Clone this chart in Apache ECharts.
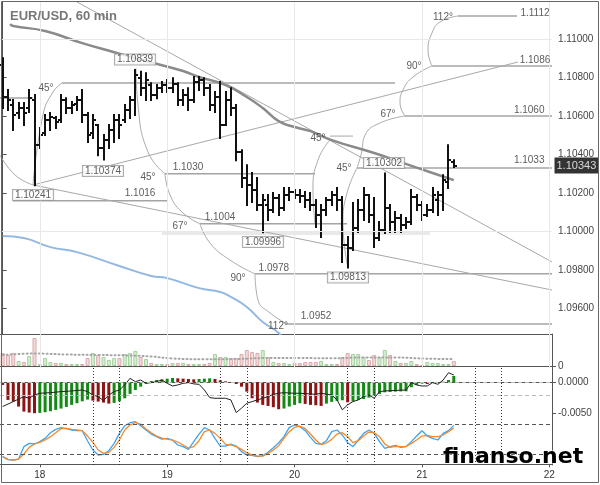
<!DOCTYPE html>
<html>
<head>
<meta charset="utf-8">
<script src="https://cdn.jsdelivr.net/npm/echarts@6/dist/echarts.min.js"></script>
<style>
html,body{margin:0;padding:0;background:#fff;}
#chart{width:600px;height:485px;}
</style>
</head>
<body>
<div id="chart"></div>
<script>
const FONT = '"Liberation Sans", Arial, sans-serif';

// hourly bars, first bar = 17th 17:00
const ohlc = [
  [1.10865,1.10901,1.10642,1.10699],[1.10699,1.10735,1.10631,1.10683],[1.10657,1.10683,1.10527,1.10605],
  [1.10616,1.10668,1.10590,1.10642],[1.10642,1.10668,1.10553,1.10616],[1.10642,1.10735,1.10621,1.10693],
  [1.10683,1.10709,1.10241,1.10449],[1.10449,1.10538,1.10434,1.10501],[1.10512,1.10605,1.10501,1.10579],
  [1.10579,1.10616,1.10527,1.10595],[1.10590,1.10595,1.10538,1.10569],[1.10579,1.10709,1.10569,1.10683],
  [1.10683,1.10693,1.10616,1.10642],[1.10642,1.10673,1.10616,1.10657],[1.10662,1.10699,1.10631,1.10683],
  [1.10683,1.10735,1.10569,1.10605],[1.10605,1.10616,1.10465,1.10501],[1.10512,1.10605,1.10486,1.10579],
  [1.10553,1.10553,1.10397,1.10434],[1.10434,1.10501,1.10374,1.10475],[1.10475,1.10553,1.10434,1.10527],
  [1.10527,1.10605,1.10465,1.10579],[1.10579,1.10605,1.10486,1.10553],[1.10579,1.10657,1.10569,1.10631],
  [1.10631,1.10699,1.10590,1.10683],[1.10683,1.10839,1.10605,1.10813],[1.10797,1.10830,1.10709,1.10745],
  [1.10745,1.10823,1.10683,1.10787],[1.10761,1.10771,1.10683,1.10709],[1.10709,1.10761,1.10693,1.10745],
  [1.10745,1.10777,1.10725,1.10761],[1.10761,1.10787,1.10725,1.10745],[1.10745,1.10797,1.10725,1.10766],
  [1.10766,1.10771,1.10657,1.10683],[1.10683,1.10735,1.10657,1.10709],[1.10709,1.10745,1.10631,1.10683],
  [1.10683,1.10803,1.10673,1.10777],[1.10777,1.10803,1.10735,1.10787],[1.10787,1.10797,1.10709,1.10745],
  [1.10745,1.10761,1.10631,1.10657],[1.10657,1.10725,1.10621,1.10699],[1.10699,1.10777,1.10486,1.10553],
  [1.10553,1.10725,1.10553,1.10683],[1.10683,1.10745,1.10605,1.10642],[1.10642,1.10657,1.10371,1.10413],
  [1.10413,1.10423,1.10231,1.10278],[1.10278,1.10345,1.10138,1.10241],[1.10241,1.10304,1.10153,1.10216],
  [1.10216,1.10278,1.10112,1.10138],[1.10138,1.10190,1.09996,1.10164],[1.10138,1.10190,1.10060,1.10112],
  [1.10112,1.10200,1.10101,1.10174],[1.10174,1.10190,1.10086,1.10122],[1.10122,1.10226,1.10112,1.10190],
  [1.10190,1.10226,1.10164,1.10205],[1.10205,1.10216,1.10174,1.10190],[1.10190,1.10216,1.10153,1.10184],
  [1.10184,1.10205,1.10127,1.10164],[1.10164,1.10200,1.10112,1.10138],[1.10138,1.10164,1.10023,1.10086],
  [1.10086,1.10138,1.09971,1.10112],[1.10112,1.10174,1.10086,1.10164],[1.10164,1.10205,1.10138,1.10190],
  [1.10190,1.10226,1.10112,1.10164],[1.10164,1.10179,1.09842,1.09930],[1.09930,1.09971,1.09813,1.09914],
  [1.09914,1.10148,1.09904,1.10018],[1.10018,1.10164,1.09997,1.10112],[1.10112,1.10226,1.10060,1.10190],
  [1.10190,1.10190,1.10049,1.10086],[1.10086,1.10174,1.09919,1.09966],[1.09966,1.10049,1.09956,1.10008],
  [1.10008,1.10302,1.09992,1.10122],[1.10122,1.10138,1.09997,1.10049],[1.10049,1.10101,1.09997,1.10070],
  [1.10070,1.10086,1.09997,1.10034],[1.10034,1.10070,1.10018,1.10049],[1.10049,1.10216,1.10039,1.10179],
  [1.10179,1.10190,1.10112,1.10138],[1.10138,1.10153,1.10060,1.10086],[1.10086,1.10138,1.10081,1.10112],
  [1.10112,1.10226,1.10101,1.10190],[1.10164,1.10205,1.10086,1.10190],[1.10190,1.10293,1.10112,1.10267],
  [1.10257,1.10449,1.10226,1.10371],[1.10361,1.10371,1.10335,1.10343]
];
const lastPrice = 1.10343;

// moving averages, [bar, price]
const grayMA = [[1.4,1.11078],[2,1.11068],[8,1.11042],[15,1.10979],[21,1.10932],[27,1.10886],[34,1.10834],
  [37,1.10803],[42,1.10761],[46,1.10699],[49,1.10642],[52,1.10574],[55,1.10543],[58,1.10522],[62,1.10475],
  [70,1.10408],[75,1.10361],[81,1.10304],[85,1.10267]];
const blueMA = [[0,1.09977],[4,1.09966],[9,1.09919],[14,1.09893],[22,1.09821],[28,1.09769],[31,1.09758],
  [37,1.09706],[41,1.09686],[43,1.09660],[46,1.09608],[49,1.09530],[52,1.09473],[54,1.0940]];

const volume = [13,11,13,5,4,10,28,2,8,4, 3,3,2,2,2,2,8,13,11,9, 6,8,8,12,13,15,9,7,3,2,
  2,2,3,3,3,2,2,2,2,3, 12,9,9,8,8,12,16,14,13,16, 9,4,3,3,2,3,3,4,4,4,
  5,2,2,2,9,13,12,12,9,6, 11,9,16,11,5,3,3,5,2,1, 4,3,3,2,2,5];
const volumeAvg = [[0,11],[6,12.5],[12,11.5],[18,11],[24,10.5],[28,9.5],[32,7.5],[38,6.8],[44,7],
  [50,8],[56,8],[62,7.7],[68,8.5],[74,8.5],[80,7.3],[85,7]];

// MACD in pips (x 0.0001)
const macdHist = [-4.3,-28.8,-31.5,-39.6,-47.8,-49.4,-50.5,-50.0,-48.9,-47.2,
  -45.1,-42.9,-40.2,-36.9,-34.2,-31.0,-28.2,-29.9,-31.5,-33.1,
  -34.8,-33.7,-31.0,-26.1,-19.0,-12.5,-7.1,-2.2,2.2,3.8,
  4.9,6.0,7.1,6.5,6.0,5.4,4.9,5.4,6.0,6.5,
  5.4,3.3,1.6,-0.3,-2.7,-7.1,-15.2,-26.1,-33.1,-36.9,
  -38.6,-40.7,-44.0,-42.9,-39.6,-36.9,-34.2,-35.3,-36.9,-37.5,
  -38.6,-34.8,-32.0,-30.4,-29.3,-32.6,-31.0,-28.8,-27.2,-25.0,
  -22.3,-19.0,-16.3,-15.7,-15.2,-14.9,-14.7,-8.1,-4.3,-2.2,
  -2.7,-0.5,0.5,1.1,3.8,10.3];
const macdSignal = [[0,-39.6],[2,-31.5],[4,-23.4],[5,-26.1],[6,-20.7],[7,-17.9],[9,-16.9],[11,-15.2],
  [13,-14.1],[15,-12.5],[16,-15.2],[17,-20.7],[18,-23.4],[19,-29.9],[20,-20.7],[21,-15.2],[22,-12.5],
  [23,-4.3],[24,6.5],[25,1.1],[26,3.8],[27,-1.6],[28,-0.5],[29,1.1],[30,3.8],[31,-1.6],[32,-6.0],
  [33,-4.3],[34,-1.6],[35,-0.5],[36,-2.5],[37,-3.3],[38,-12.5],[39,-25.0],[40,-26.1],[42,-26.1],
  [43,-28.8],[44,-49.4],[45,-42.3],[46,-34.2],[47,-31.5],[48,-28.8],[49,-26.1],[50,-23.4],[51,-19.6],
  [52,-17.9],[53,-16.9],[55,-17.9],[56,-17.9],[58,-19.0],[59,-19.6],[60,-17.9],[62,-20.7],[63,-28.8],
  [64,-45.0],[65,-36.9],[66,-31.5],[67,-28.8],[68,-23.4],[69,-20.7],[70,-26.1],[71,-15.2],[72,-14.1],
  [76,-12.5],[77,-0.5],[78,-4.3],[79,-6.0],[80,-6.0],[81,-0.5],[82,-3.3],[83,3.8],[84,15.7],[85,11.9]];

const stochK = [15.3,9.2,8.6,10.5,35.3,41.9,40.6,45.3,51.9,63.2,
  69.9,73.2,71.2,68.6,67.2,67.2,46.6,28.6,18.6,19.9,
  27.2,41.9,61.9,77.2,83.2,85.2,77.2,68.6,60.5,55.3,
  50.5,51.9,48.6,38.6,35.3,29.9,45.3,60.5,73.2,68.6,
  51.9,36.5,36.5,40.6,36.5,25.3,18.6,17.9,15.3,17.2,
  23.9,33.2,43.2,55.3,73.9,78.6,75.3,67.2,53.9,41.9,
  39.9,47.2,65.3,68.6,58.6,43.2,35.3,48.6,61.9,68.6,
  61.9,45.3,31.9,35.3,37.9,33.9,35.3,45.3,56.5,67.2,
  56.5,51.9,48.6,61.9,67.2,77.9];
const stochD = [15.3,9.9,8.6,10.5,20.6,33.9,40.6,43.9,48.6,55.3,
  63.2,71.2,71.9,69.9,68.6,67.2,56.5,43.9,28.6,21.9,
  23.9,33.9,48.6,68.6,78.6,83.9,79.9,70.5,63.2,56.5,
  52.5,50.5,48.6,44.6,38.6,32.5,35.3,47.2,65.3,68.6,
  61.9,51.9,39.9,38.6,35.3,29.9,23.2,18.6,16.5,16.5,
  21.9,28.6,37.2,51.9,65.3,73.9,76.5,71.2,60.5,48.6,
  39.2,42.6,49.9,60.5,63.2,55.3,43.2,47.2,56.5,64.5,
  63.2,55.3,40.6,33.9,35.9,35.3,35.9,41.9,48.6,56.5,
  57.9,55.3,55.3,58.6,65.3,72.6];

const priceTicks = [1.096,1.098,1.100,1.102,1.104,1.106,1.108,1.110];
const dayBars = [7,31,55,79,103];
const sessionBars = [17,22,41,46,65,70,89,94];

// drawings on the price panel: [fromBar, toBar, price]
const levelLines = [
  [11.18,73.92,1.10772],[-0.5,5.72,1.10694],[85.79,96.9,1.1112],[80.89,103.5,1.1086],
  [75.8,103.5,1.1060],[66.76,103.5,1.1033],[30.59,58.85,1.1030],[1.95,30.96,1.1016],
  [37.18,64.88,1.1004],[47.54,103.5,1.0978],[53.57,103.5,1.0952]
];
const trendLines = [
  [[14.0,1.11193],[103.5,1.09842]],
  [[5.72,1.10242],[103.5,1.09696]],
  [[5.72,1.10242],[97.1,1.10881]],
  [[61.67,1.10496],[66.0,1.10496]]
];
const arcs = [
  [[-0.5,1.10398],[2.33,1.10294],[5.72,1.10242]],
  [[5.72,1.10242],[7.6,1.10606],[9.49,1.10725],[11.18,1.10772]],
  [[25.12,1.10850],[25.5,1.10658],[27.38,1.10413],[30.59,1.1030]],
  [[30.59,1.1030],[31.53,1.10190],[33.79,1.10101],[37.18,1.1004]],
  [[37.18,1.1004],[39.07,1.09940],[42.83,1.09852],[47.54,1.0978]],
  [[47.54,1.0978],[48.11,1.09644],[50.37,1.09577],[53.57,1.0952]],
  [[65.06,1.09810],[64.12,1.10049],[64.88,1.10200],[66.76,1.1033]],
  [[66.76,1.1033],[67.6,1.10408],[68.3,1.10502],[71.1,1.10564],[75.8,1.1060]],
  [[75.8,1.1060],[74.87,1.10668],[75.43,1.10736],[77.31,1.10803],[80.89,1.1086]],
  [[80.89,1.1086],[80.14,1.10943],[80.89,1.11032],[82.4,1.11089],[85.79,1.1112]],
  [[61.67,1.10476],[59.41,1.10372],[58.47,1.10216],[58.85,1.1004]]
];
const angleLabels = [
  ['45°',8.17,1.10746],['45°',27.38,1.10283],['67°',33.41,1.10029],['90°',44.34,1.09758],
  ['112°',51.88,1.09509],['45°',59.41,1.10486],['45°',64.31,1.10330],['67°',72.6,1.10611],
  ['90°',77.5,1.10860],['112°',82.96,1.11115]
];
const levelLabels = [
  ['1.1112',100.3,1.11136],['1.1086',100.3,1.10891],['1.1060',99.2,1.10632],['1.1033',99.2,1.10372],
  ['1.1030',34.92,1.10335],['1.1016',25.88,1.10200],['1.1004',40.95,1.10075],['1.0978',51.1,1.09810],
  ['1.0952',59.04,1.09561]
];
const pivotLabels = [
  ['1.10839',24.94,1.10894],['1.10374',18.9,1.10315],['1.10241',5.72,1.10190],
  ['1.09996',49.05,1.09946],['1.09813',65.06,1.09761],['1.10302',71.85,1.10356]
];

// hour slots from 17th 17:00
const cats = [];
for (let k = 0; k < 104; k++) {
  const t = 17 + k;
  cats.push((17 + Math.floor(t / 24)) + ' ' + String(t % 24).padStart(2, '0') + ':00');
}
const isMidnight = (idx) => cats[idx] && cats[idx].endsWith(' 00:00');

const chart = echarts.init(document.getElementById('chart'), null, { renderer: 'canvas' });

const plain = (pts, color, width, smooth, z) => ({
  type: 'line', xAxisIndex: 0, yAxisIndex: 0, data: pts, symbol: 'none', silent: true,
  smooth: smooth ? 0.5 : false, lineStyle: { color: color, width: width }, z: z || 2, animation: false
});

const vLines = (list, color, type) => list.map((v) => ({ xAxis: v, lineStyle: { color: color, type: type, width: 1 } }));
const hLines = (list, color, type) => list.map((v) => ({ yAxis: v, lineStyle: { color: color, type: type, width: 1 } }));
const mark = (data) => ({ symbol: ['none', 'none'], silent: true, label: { show: false }, animation: false, data: data });

const series = [];

// grid lines on the price panel
series.push({
  type: 'line', xAxisIndex: 0, yAxisIndex: 0, data: [], z: 1,
  markLine: mark([
    ...hLines(priceTicks, '#e8e8e8', 'solid'),
    ...vLines(dayBars, '#e8e8e8', 'solid')
  ])
});

series.push(plain([[30, 1.09992], [80.5, 1.09992]], '#e9e9e9', 4, false, 1));
levelLines.forEach(([a, b, p]) => series.push(plain([[a, p], [b, p]], '#a4a4a4', 1.5)));
trendLines.forEach((pts) => series.push(plain(pts, '#a8a8a8', 1)));
arcs.forEach((pts) => series.push(plain(pts, '#ababab', 1, true)));

series.push(plain(grayMA, '#8a8a8a', 2.5, true, 3));
series.push(plain(blueMA, '#93b9e2', 2, true, 3));

series.push({
  type: 'custom', xAxisIndex: 0, yAxisIndex: 0, z: 4, clip: true, animation: false,
  data: ohlc.map((d, i) => [i].concat(d)),
  encode: { x: 0, y: [1, 2, 3, 4] },
  renderItem: function (params, api) {
    const i = api.value(0);
    const o = api.coord([i, api.value(1)]);
    const h = api.coord([i, api.value(2)]);
    const l = api.coord([i, api.value(3)]);
    const c = api.coord([i, api.value(4)]);
    const x = Math.round(h[0]);
    const st = { stroke: '#111', lineWidth: 2 };
    return {
      type: 'group',
      children: [
        { type: 'line', shape: { x1: x, y1: h[1] - 1, x2: x, y2: l[1] + 1 }, style: st },
        { type: 'line', shape: { x1: x - 3, y1: Math.round(o[1]), x2: x, y2: Math.round(o[1]) }, style: st },
        { type: 'line', shape: { x1: x, y1: Math.round(c[1]), x2: x + 3, y2: Math.round(c[1]) }, style: st }
      ]
    };
  }
});

series.push({
  type: 'scatter', xAxisIndex: 0, yAxisIndex: 0, symbolSize: 1, silent: true, z: 6, animation: false,
  itemStyle: { color: 'rgba(0,0,0,0)' },
  label: { show: true, position: 'inside', formatter: '{b}', color: '#333', fontSize: 10, fontFamily: FONT },
  data: angleLabels.concat(levelLabels).map(([t, i, p]) => ({ name: t, value: [i, p] }))
});
series.push({
  type: 'scatter', xAxisIndex: 0, yAxisIndex: 0, symbolSize: 1, silent: true, z: 7, animation: false,
  itemStyle: { color: 'rgba(0,0,0,0)' },
  label: {
    show: true, position: 'inside', formatter: '{b}', color: '#333', fontSize: 10, lineHeight: 10,
    fontFamily: FONT, backgroundColor: '#fff', borderColor: '#999', borderWidth: 1, padding: [0, 2]
  },
  data: pivotLabels.map(([t, i, p]) => ({ name: t, value: [i, p] }))
});

// last price tag at the right edge of the price panel
series.push({
  type: 'scatter', xAxisIndex: 0, yAxisIndex: 0, symbolSize: 1, silent: true, z: 8, animation: false,
  clip: false, itemStyle: { color: 'rgba(0,0,0,0)' },
  label: {
    show: true, position: 'right', distance: 2, formatter: lastPrice.toFixed(5),
    backgroundColor: '#000', color: '#fff', fontSize: 11, fontFamily: FONT, padding: [3, 2, 2, 2]
  },
  data: [[103.5, lastPrice]]
});

// volume
series.push({
  type: 'bar', xAxisIndex: 1, yAxisIndex: 1, barWidth: 4, silent: true, animation: false,
  data: volume.map((v, i) => {
    const up = ohlc[i][3] >= ohlc[i][0];
    return {
      value: v,
      itemStyle: up
        ? { color: '#d7edd3', borderColor: '#a3d29e', borderWidth: 1 }
        : { color: '#f3dada', borderColor: '#dbaaaa', borderWidth: 1 }
    };
  }),
  markLine: mark(vLines(dayBars, '#e8e8e8', 'solid'))
});
series.push({
  type: 'line', xAxisIndex: 1, yAxisIndex: 1, data: volumeAvg, symbol: 'none', smooth: 0.4, silent: true,
  animation: false, z: 3, lineStyle: { color: '#a6a6a6', width: 2, type: [1, 3], cap: 'round' }
});

// MACD
series.push({
  type: 'bar', xAxisIndex: 2, yAxisIndex: 2, barWidth: 3, silent: true, animation: false,
  data: macdHist.map((v, i) => ({
    value: v,
    itemStyle: { color: (i === 0 || v < macdHist[i - 1]) ? '#8c1414' : '#138a13' }
  })),
  markLine: mark([
    ...hLines([0, -21], '#bdbdbd', [4, 3]),
    ...vLines(sessionBars, '#333', [1, 2])
  ])
});
series.push({
  type: 'line', xAxisIndex: 2, yAxisIndex: 2, data: macdSignal, symbol: 'none', silent: true,
  animation: false, z: 3, lineStyle: { color: '#222', width: 1 }
});

// stochastic
series.push({
  type: 'line', xAxisIndex: 3, yAxisIndex: 3, data: stochK, symbol: 'none', silent: true,
  animation: false, z: 3, lineStyle: { color: '#3fa3f2', width: 1.3 },
  markLine: mark([
    ...hLines([80, 20], '#555', [4, 3]),
    ...vLines(sessionBars, '#333', [1, 2])
  ])
});
series.push({
  type: 'line', xAxisIndex: 3, yAxisIndex: 3, data: stochD, symbol: 'none', silent: true,
  animation: false, z: 3, lineStyle: { color: '#f58a2c', width: 1.3 }
});

const axisLine = { show: true, lineStyle: { color: '#555', width: 1 } };
const catAxis = (gi, labels) => ({
  type: 'category', gridIndex: gi, data: cats, axisLine: axisLine,
  axisTick: labels ? { show: true, interval: isMidnight, alignWithLabel: true, length: 3, lineStyle: { color: '#555' } } : { show: false },
  axisLabel: labels ? {
    show: true, interval: isMidnight, margin: 5, fontSize: 10, color: '#333', fontFamily: FONT,
    formatter: (v) => v.split(' ')[0]
  } : { show: false },
  splitLine: { show: false }
});
const rightAxis = (gi, min, max, values, fmt) => ({
  type: 'value', gridIndex: gi, position: 'right', min: min, max: max, scale: true,
  axisLine: axisLine,
  axisTick: values ? { show: true, length: 4, customValues: values, lineStyle: { color: '#555' } } : { show: false },
  axisLabel: values ? {
    show: true, customValues: values, formatter: fmt, margin: 6, fontSize: 10, color: '#444', fontFamily: FONT
  } : { show: false },
  splitLine: { show: false }
});

chart.setOption({
  animation: false,
  backgroundColor: '#fff',
  textStyle: { fontFamily: FONT },
  title: {
    text: 'EUR/USD, 60 min', left: 10, top: 10, padding: 0,
    textStyle: { fontFamily: FONT, fontWeight: 'bold', fontSize: 13, color: '#777' }
  },
  grid: [
    { left: 0, width: 552, top: 1.5, height: 332.5 },
    { left: 0, width: 552, top: 334, height: 34 },
    { left: 0, width: 552, top: 368, height: 49 },
    { left: 0, width: 552, top: 417, height: 48 }
  ],
  xAxis: [
    { type: 'value', gridIndex: 0, min: -0.5, max: 103.5, axisLine: axisLine, axisTick: { show: false },
      axisLabel: { show: false }, splitLine: { show: false } },
    catAxis(1, false),
    catAxis(2, false),
    catAxis(3, true)
  ],
  yAxis: [
    rightAxis(0, 1.094675, 1.111954, priceTicks, (v) => v.toFixed(5)),
    rightAxis(1, -2, 32, [0], () => '0'),
    rightAxis(2, -56.7, 23.4, [0, -50], (v) => (v / 10000).toFixed(4)),
    rightAxis(3, -1.4, 94.6, null)
  ],
  graphic: [
    { type: 'rect', silent: true, z: 100, shape: { x: 1.5, y: 1.5, width: 597, height: 481 },
      style: { fill: 'none', stroke: '#666', lineWidth: 1 } },
    { type: 'text', silent: true, z: 100, x: 443, y: 457,
      style: { text: 'finanso.net', font: 'bold 22px "DejaVu Sans"', fill: '#000', verticalAlign: 'middle',
        stroke: '#fff', lineWidth: 1 } }
  ],
  series: series
});
</script>
</body>
</html>
